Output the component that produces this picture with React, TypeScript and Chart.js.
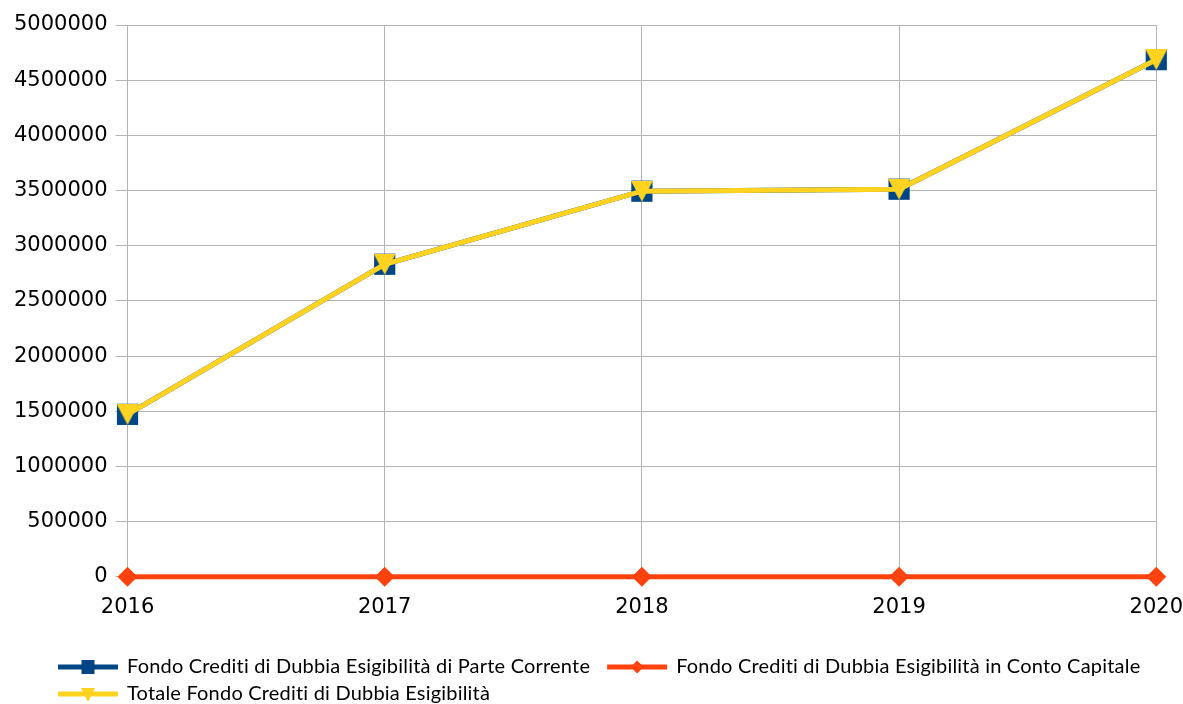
import React, { useEffect, useRef } from 'react';
import { Chart, registerables } from 'chart.js';

Chart.register(...registerables);

const years = ['2016', '2017', '2018', '2019', '2020'];
const parteCorrente = [1472000, 2832000, 3494000, 3512000, 4686000];
const contoCapitale = [0, 0, 0, 0, 0];
const totale = [1472000, 2832000, 3494000, 3512000, 4686000];
const seriesNames = [
  'Fondo Crediti di Dubbia Esigibilità di Parte Corrente',
  'Fondo Crediti di Dubbia Esigibilità in Conto Capitale',
  'Totale Fondo Crediti di Dubbia Esigibilità',
];
const yMin = 0;
const yMax = 5000000;
const yStep = 500000;

const BLUE = '#004586';
const ORANGE = '#ff420e';
const YELLOW = '#ffd320';
const GRID = '#b3b3b3';
const colors = [BLUE, ORANGE, YELLOW];

function triangleDown(w: number, h: number, color: string) {
  const c = document.createElement('canvas');
  c.width = w;
  c.height = h;
  const g = c.getContext('2d')!;
  g.fillStyle = color;
  g.beginPath();
  g.moveTo(0, 0);
  g.lineTo(w, 0);
  g.lineTo(w / 2, h);
  g.closePath();
  g.fill();
  return c;
}

function drawMarker(ctx: CanvasRenderingContext2D, i: number, cx: number, cy: number) {
  ctx.fillStyle = colors[i];
  if (i === 0) {
    ctx.fillRect(cx - 6.5, cy - 7, 13, 14);
  } else if (i === 1) {
    ctx.beginPath();
    ctx.moveTo(cx, cy - 6.5);
    ctx.lineTo(cx + 6.5, cy);
    ctx.lineTo(cx, cy + 6.5);
    ctx.lineTo(cx - 6.5, cy);
    ctx.closePath();
    ctx.fill();
  } else {
    ctx.beginPath();
    ctx.moveTo(cx - 7, cy - 6);
    ctx.lineTo(cx + 7, cy - 6);
    ctx.lineTo(cx, cy + 8);
    ctx.closePath();
    ctx.fill();
  }
}

const legendPlugin = {
  id: 'bottomLegend',
  afterDraw(chart: any) {
    const ctx: CanvasRenderingContext2D = chart.ctx;
    ctx.save();
    ctx.font = '20px Lato';
    (ctx as any).letterSpacing = '0.2px';
    ctx.textBaseline = 'middle';
    ctx.textAlign = 'left';
    const rows = [[0, 1], [2]];
    const rowY = [667, 694];
    const startX = 58;
    const lineLen = 60;
    const gap = 9;
    const itemGap = 17;
    rows.forEach((row, r) => {
      let x = startX;
      const y = rowY[r];
      row.forEach((i) => {
        ctx.strokeStyle = colors[i];
        ctx.lineWidth = 5;
        ctx.beginPath();
        ctx.moveTo(x, y);
        ctx.lineTo(x + lineLen, y);
        ctx.stroke();
        drawMarker(ctx, i, x + lineLen / 2, y);
        ctx.fillStyle = '#000000';
        const tx = x + lineLen + gap;
        ctx.fillText(seriesNames[i], tx, y);
        x = tx + ctx.measureText(seriesNames[i]).width + itemGap;
      });
    });
    ctx.restore();
  },
};

export default function App() {
  const ref = useRef<HTMLCanvasElement | null>(null);
  useEffect(() => {
    if (!ref.current) return;
    const tri = triangleDown(22, 21, YELLOW);
    const chart = new Chart(ref.current, {
      type: 'line',
      data: {
        labels: years,
        datasets: [
          {
            label: seriesNames[0],
            data: parteCorrente,
            borderColor: BLUE,
            backgroundColor: BLUE,
            borderWidth: 5,
            pointStyle: 'rect',
            pointRadius: 15,
            pointBorderWidth: 0,
            order: 2,
            clip: false,
          },
          {
            label: seriesNames[1],
            data: contoCapitale,
            borderColor: ORANGE,
            backgroundColor: ORANGE,
            borderWidth: 5,
            pointStyle: 'rectRot',
            pointRadius: 10,
            pointBorderWidth: 0,
            order: 1,
            clip: false,
          },
          {
            label: seriesNames[2],
            data: totale,
            borderColor: YELLOW,
            backgroundColor: YELLOW,
            borderWidth: 5,
            pointStyle: tri as any,
            pointRadius: 11,
            order: 0,
            clip: false,
          },
        ],
      },
      options: {
        animation: false,
        responsive: false,
        maintainAspectRatio: false,
        layout: { padding: { top: 25, left: 6, right: 0, bottom: 84 } },
        plugins: {
          legend: { display: false },
          tooltip: { enabled: false },
        },
        elements: { line: { tension: 0 } },
        scales: {
          x: {
            offset: false,
            grid: { color: GRID, drawTicks: true, tickLength: 18, tickColor: 'rgba(0,0,0,0)', lineWidth: 1 },
            border: { color: GRID },
            ticks: {
              color: '#000000',
              font: { family: 'DejaVu Sans', size: 21 },
              padding: 0,
              maxRotation: 0,
            },
          },
          y: {
            min: yMin,
            max: yMax,
            grid: { color: GRID, tickLength: 12, lineWidth: 1 },
            border: { color: GRID },
            ticks: {
              stepSize: yStep,
              color: '#000000',
              font: { family: 'DejaVu Sans', size: 21 },
              padding: 8,
              callback: (v: any) => String(v),
            },
          },
        },
      },
      plugins: [legendPlugin],
    });
    return () => chart.destroy();
  }, []);
  return (
    <div style={{ position: 'fixed', left: 0, top: 0, width: 1183, height: 704, background: '#ffffff' }}>
      <canvas ref={ref} width={1183} height={704} style={{ width: 1183, height: 704 }} />
    </div>
  );
}
